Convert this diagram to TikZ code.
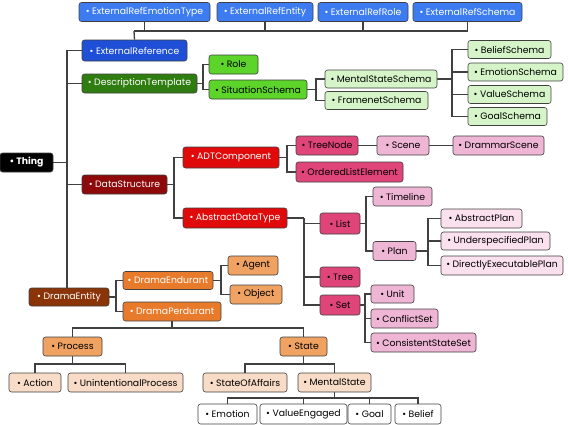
\documentclass[tikz,border=0pt]{standalone}
\usepackage{fontspec}
\setmainfont{Poppins}
\usepackage{xcolor}
\usetikzlibrary{positioning, arrows.meta, shapes, backgrounds}

\definecolor{topblue}{HTML}{3C7CF0}
\definecolor{refblue}{HTML}{1F4FD6}
\definecolor{dkgreen}{HTML}{2F7D10}
\definecolor{midgreen}{HTML}{5CD42A}
\definecolor{ltgreen}{HTML}{D5F5C8}
\definecolor{dkred}{HTML}{8E0A0A}
\definecolor{midred}{HTML}{E00A0A}
\definecolor{crimson}{HTML}{E0457A}
\definecolor{ltpink}{HTML}{EFB5D5}
\definecolor{vlpink}{HTML}{FBE0EE}
\definecolor{dkbrown}{HTML}{8A3408}
\definecolor{midorange}{HTML}{E87B2B}
\definecolor{ltorange}{HTML}{F0A262}
\definecolor{peach}{HTML}{F8DCC7}

\tikzset{
  box/.style={draw=black!75, line width=0.6pt, rounded corners=2.5pt, minimum height=19pt,
    inner sep=1pt, font=\fontsize{9.3}{10}\selectfont},
  light/.style={box, text=black},
  dark/.style={box, text=white},
  conn/.style={draw=black!75, line width=1.3pt},
}

\begin{document}
\begin{tikzpicture}[x=1pt, y=-1pt]
            \useasboundingbox (0,0) rectangle (568,424);
            % external references
            \node[dark, fill=topblue, minimum width=131pt] (eret) at (144.5,12) {• ExternalRefEmotionType};
            \node[dark, fill=topblue, minimum width=96pt] (eren) at (265,12) {• ExternalRefEntity};
            \node[dark, fill=topblue, minimum width=90pt] (erro) at (363,12) {• ExternalRefRole};
            \node[dark, fill=topblue, minimum width=109pt] (ersc) at (467.5,12) {• ExternalRefSchema};
            \node[dark, fill=refblue, minimum width=105pt, minimum height=21pt] (er) at (134.5,50.5) {• ExternalReference};
            % description templates
            \node[dark, fill=dkgreen, minimum width=115pt] (dt) at (139.5,83.5) {• DescriptionTemplate};
            \node[light, fill=midgreen, minimum width=49pt] (role) at (233.5,64.5) {• Role};
            \node[light, fill=midgreen, minimum width=98pt] (ss) at (258,89.5) {• SituationSchema};
            \node[light, fill=ltgreen, minimum width=112pt, minimum height=18pt] (mss) at (381,79) {• MentalStateSchema};
            \node[light, fill=ltgreen, minimum width=103pt, minimum height=18pt] (fs) at (376.5,100.5) {• FramenetSchema};
            \node[light, fill=ltgreen, minimum width=83pt, minimum height=18pt] (bs) at (509.5,49.5) {• BeliefSchema};
            \node[light, fill=ltgreen, minimum width=95pt, minimum height=18pt] (es) at (515.5,72) {• EmotionSchema};
            \node[light, fill=ltgreen, minimum width=83pt, minimum height=18pt] (vs) at (509.5,94.5) {• ValueSchema};
            \node[light, fill=ltgreen, minimum width=79pt, minimum height=18pt] (gs) at (507.5,116.5) {• GoalSchema};
            % root
            \node[dark, fill=black, minimum width=53pt, font=\fontsize{9.3}{10}\selectfont\bfseries] (thing) at (26.5,162.5) {• Thing};
            % data structures
            \node[dark, fill=dkred, minimum width=85pt] (ds) at (124.5,184.5) {• DataStructure};
            \node[dark, fill=midred, minimum width=96pt, minimum height=21pt] (adtc) at (231,157.5) {• ADTComponent};
            \node[dark, fill=midred, minimum width=104pt, minimum height=20pt] (adt) at (235,218) {• AbstractDataType};
            \node[light, fill=crimson, minimum width=62pt] (tn) at (327,145.5) {• TreeNode};
            \node[light, fill=crimson, minimum width=107pt, minimum height=20pt] (ole) at (349.5,172) {• OrderedListElement};
            \node[light, fill=ltpink, minimum width=52pt] (scene) at (403,145.5) {• Scene};
            \node[light, fill=ltpink, minimum width=91pt] (drs) at (498.5,145.5) {• DrammarScene};
            \node[light, fill=crimson, minimum width=40pt, minimum height=21pt] (list) at (340,223.5) {• List};
            \node[light, fill=crimson, minimum width=40pt, minimum height=20pt] (tree) at (340,277) {• Tree};
            \node[light, fill=crimson, minimum width=40pt, minimum height=20pt] (set) at (340,305) {• Set};
            \node[light, fill=ltpink, minimum width=59pt] (tl) at (402.5,196.5) {• Timeline};
            \node[light, fill=ltpink, minimum width=43pt] (plan) at (394.5,251) {• Plan};
            \node[light, fill=vlpink, minimum width=81pt] (ap) at (481.5,218.5) {• AbstractPlan};
            \node[light, fill=vlpink, minimum width=109pt, minimum height=18pt] (usp) at (495.5,241) {• UnderspecifiedPlan};
            \node[light, fill=vlpink, minimum width=122pt] (dep) at (502,265.5) {• DirectlyExecutablePlan};
            \node[light, fill=ltpink, minimum width=43pt, minimum height=18pt] (unit) at (392.5,294) {• Unit};
            \node[light, fill=ltpink, minimum width=67pt] (cs) at (404.5,318.5) {• ConflictSet};
            \node[light, fill=ltpink, minimum width=105pt] (css) at (423.5,342.5) {• ConsistentStateSet};
            % drama entities
            \node[dark, fill=dkbrown, minimum width=80pt, minimum height=18pt] (de) at (69,297) {• DramaEntity};
            \node[dark, fill=midorange, minimum width=90pt, minimum height=18pt] (den) at (168,280.5) {• DramaEndurant};
            \node[dark, fill=midorange, minimum width=98pt] (dp) at (172,311.5) {• DramaPerdurant};
            \node[light, fill=ltorange, minimum width=50pt] (agent) at (253,265.5) {• Agent};
            \node[light, fill=ltorange, minimum width=52pt] (object) at (256,294.5) {• Object};
            \node[light, fill=ltorange, minimum width=59pt] (process) at (72.5,346.5) {• Process};
            \node[light, fill=ltorange, minimum width=47pt] (state) at (303.5,346.5) {• State};
            \node[light, fill=peach, minimum width=52pt] (action) at (35,382.5) {• Action};
            \node[light, fill=peach, minimum width=115pt] (uip) at (125.5,382.5) {• UnintentionalProcess};
            \node[light, fill=peach, minimum width=84pt] (soa) at (245,382.5) {• StateOfAffairs};
            \node[light, fill=peach, minimum width=73pt] (ms) at (334.5,382.5) {• MentalState};
            \node[light, fill=white, minimum width=59pt, minimum height=20pt] (emotion) at (227.5,414) {• Emotion};
            \node[light, fill=white, minimum width=87pt, minimum height=20pt] (ve) at (303.5,414) {• ValueEngaged};
            \node[light, fill=white, minimum width=43pt, minimum height=20pt] (goal) at (369.5,414) {• Goal};
            \node[light, fill=white, minimum width=46pt, minimum height=20pt] (belief) at (418,414) {• Belief};

            % junctions
            \coordinate (jtop) at (134,31); \coordinate (jthing) at (67,162.5);
            \coordinate (jdt) at (203,83.5); \coordinate (jss) at (316,89.5); \coordinate (jmss) at (452,79);
            \coordinate (jds) at (174,184.5); \coordinate (jadtc) at (287,157.5); \coordinate (jadt) at (304,218);
            \coordinate (jlist) at (366,223.5); \coordinate (jplan) at (428,251); \coordinate (jset) at (365,305);
            \coordinate (jde) at (116,297); \coordinate (jden) at (221,280.5); \coordinate (jdp) at (172,328);
            \coordinate (jproc) at (72.5,364); \coordinate (jstate) at (303.5,364); \coordinate (jms) at (334.5,398);

            % connectors
            \begin{scope}[on background layer]
            \draw[conn] (er.north) -- (jtop);
            \foreach \c in {eret,eren,erro,ersc} \draw[conn] (jtop) -| (\c.south);
            \draw[conn] (thing.east) -- (jthing);
            \foreach \c in {er,dt,ds,de} \draw[conn] (jthing) |- (\c.west);
            \draw[conn] (dt.east) -- (jdt);
            \foreach \c in {role,ss} \draw[conn] (jdt) |- (\c.west);
            \draw[conn] (ss.east) -- (jss);
            \foreach \c in {mss,fs} \draw[conn] (jss) |- (\c.west);
            \draw[conn] (mss.east) -- (jmss);
            \foreach \c in {bs,es,vs,gs} \draw[conn] (jmss) |- (\c.west);
            \draw[conn] (ds.east) -- (jds);
            \foreach \c in {adtc,adt} \draw[conn] (jds) |- (\c.west);
            \draw[conn] (adtc.east) -- (jadtc);
            \foreach \c in {tn,ole} \draw[conn] (jadtc) |- (\c.west);
            \draw[conn] (tn) -- (scene); \draw[conn] (scene) -- (drs);
            \draw[conn] (adt.east) -- (jadt);
            \foreach \c in {list,tree,set} \draw[conn] (jadt) |- (\c.west);
            \draw[conn] (list.east) -- (jlist);
            \foreach \c in {tl,plan} \draw[conn] (jlist) |- (\c.west);
            \draw[conn] (plan.east) -- (jplan);
            \foreach \c in {ap,usp,dep} \draw[conn] (jplan) |- (\c.west);
            \draw[conn] (set.east) -- (jset);
            \foreach \c in {unit,cs,css} \draw[conn] (jset) |- (\c.west);
            \draw[conn] (de.east) -- (jde);
            \foreach \c in {den,dp} \draw[conn] (jde) |- (\c.west);
            \draw[conn] (den.east) -- (jden);
            \foreach \c in {agent,object} \draw[conn] (jden) |- (\c.west);
            \draw[conn] (dp.south) -- (jdp);
            \foreach \c in {process,state} \draw[conn] (jdp) -| (\c.north);
            \draw[conn] (process.south) -- (jproc);
            \foreach \c in {action,uip} \draw[conn] (jproc) -| (\c.north);
            \draw[conn] (state.south) -- (jstate);
            \foreach \c in {soa,ms} \draw[conn] (jstate) -| (\c.north);
            \draw[conn] (ms.south) -- (jms);
            \foreach \c in {emotion,ve,goal,belief} \draw[conn] (jms) -| (\c.north);
            \end{scope}
        \end{tikzpicture}
\end{document}
